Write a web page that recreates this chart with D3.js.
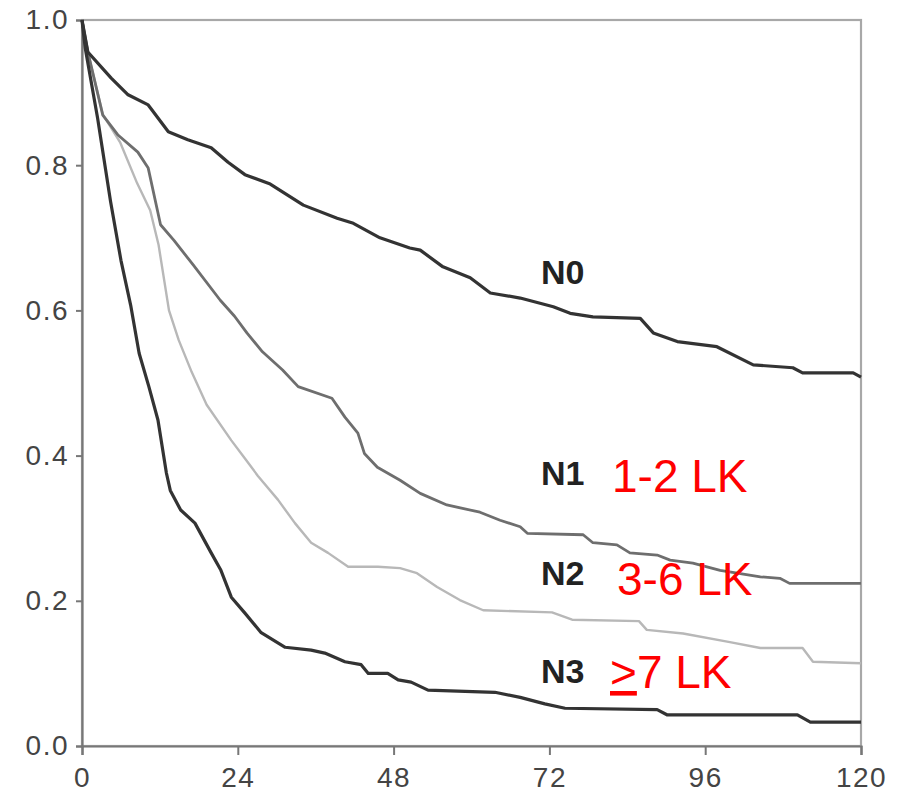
<!DOCTYPE html>
<html>
<head>
<meta charset="utf-8">
<script src="https://cdn.jsdelivr.net/npm/d3@7"></script>
<style>
  html, body { margin: 0; padding: 0; background: #fff; }
  svg { display: block; }
  text { font-family: "Liberation Sans", Arial, Helvetica, sans-serif; }
</style>
</head>
<body>
<svg id="chart" width="905" height="793"></svg>
<script>
// Kaplan-Meier survival by nodal stage: [months, survival proportion]
const n0 = [[0,1.0],[0.9,0.956],[4.5,0.92],[7.1,0.897],[10.2,0.883],[13.3,0.846],[16.3,0.835],[19.9,0.824],[22.5,0.804],[25.1,0.787],[29.0,0.774],[34.1,0.745],[39.3,0.727],[41.8,0.72],[45.9,0.70],[50.5,0.686],[52.1,0.683],[55.6,0.66],[59.8,0.645],[62.9,0.624],[67.5,0.617],[72.6,0.605],[75.2,0.596],[78.7,0.591],[86,0.589],[88,0.569],[91.7,0.557],[97.8,0.55],[103.4,0.525],[109.5,0.521],[111,0.514],[118.8,0.514],[120,0.508]];
const n1 = [[0,1.0],[0.9,0.956],[3.2,0.869],[5.5,0.842],[8.6,0.818],[10.2,0.796],[12.1,0.718],[14.2,0.696],[17.1,0.663],[21.3,0.614],[23.5,0.592],[25.4,0.569],[27.8,0.543],[30.9,0.518],[33.3,0.495],[38.5,0.479],[40.5,0.453],[42.5,0.431],[43.5,0.403],[45.5,0.384],[49,0.366],[52.1,0.348],[56.2,0.332],[61.3,0.322],[64.4,0.311],[67.5,0.302],[68.6,0.293],[77.2,0.291],[78.7,0.280],[82.4,0.277],[84.4,0.266],[88.6,0.263],[90.6,0.256],[94.1,0.252],[98.3,0.242],[104.5,0.233],[107.5,0.231],[109,0.224],[120,0.224]];
const n2 = [[0,1.0],[0.9,0.956],[3.2,0.87],[5.9,0.831],[8.5,0.775],[10.5,0.738],[11.8,0.69],[13.4,0.60],[14.9,0.559],[16.9,0.515],[19.2,0.47],[23,0.421],[25.1,0.396],[27.1,0.372],[30.2,0.339],[32.8,0.307],[35.3,0.28],[37.9,0.266],[41,0.247],[45.6,0.247],[49,0.245],[51.6,0.238],[54.7,0.219],[58.2,0.201],[61.8,0.187],[72.4,0.184],[75.5,0.174],[85.8,0.172],[87,0.160],[92.6,0.155],[99.8,0.143],[104.5,0.135],[111,0.135],[112.6,0.116],[120,0.114]];
const n3 = [[0,1.0],[0.5,0.961],[2.4,0.865],[4.4,0.75],[6,0.669],[7.5,0.607],[8.8,0.541],[10.3,0.495],[11.7,0.449],[13,0.376],[13.6,0.352],[15.2,0.325],[17.4,0.307],[19.9,0.266],[21.4,0.242],[23,0.205],[25.1,0.183],[27.6,0.156],[31.3,0.136],[35.3,0.132],[37.4,0.128],[40.5,0.116],[43,0.112],[44.1,0.1],[47.1,0.1],[48.7,0.091],[50.7,0.088],[53.3,0.077],[63.6,0.074],[67.5,0.067],[71.3,0.058],[74.4,0.052],[88.6,0.05],[90.1,0.043],[110.2,0.043],[112.2,0.033],[120,0.033]];

const xTicks = [0, 24, 48, 72, 96, 120];
const yTicks = [0, 0.2, 0.4, 0.6, 0.8, 1.0];
const stageNames = ["N0", "N1", "N2", "N3"];
const nodeCounts = ["", "1-2 LK", "3-6 LK", "7 LK"];

const svg = d3.select("#chart");
const x = d3.scaleLinear().domain([0, 120]).range([82, 861]);
const y = d3.scaleLinear().domain([0, 1]).range([746, 20]);

// plot frame
svg.append("rect")
  .attr("x", x(0)).attr("y", y(1))
  .attr("width", x(120) - x(0)).attr("height", y(0) - y(1))
  .attr("fill", "none").attr("stroke", "#a8a8a8").attr("stroke-width", 2.2);

const yAxis = svg.append("g")
  .attr("transform", `translate(${x(0)},0)`)
  .call(d3.axisLeft(y).tickValues(yTicks).tickFormat(d3.format(".1f")).tickSize(6).tickPadding(7));
const xAxis = svg.append("g")
  .attr("transform", `translate(0,${y(0)})`)
  .call(d3.axisBottom(x).tickValues(xTicks).tickSize(9).tickPadding(12));

[yAxis, xAxis].forEach(g => {
  g.select(".domain").attr("stroke", "#777").attr("stroke-width", 2.2);
  g.selectAll(".tick line").attr("stroke", "#777").attr("stroke-width", 2);
  g.selectAll(".tick text")
    .attr("fill", "#444")
    .style("font-size", "28px")
    .style("letter-spacing", "1.5px");
});

// survival curves
const line = d3.line().x(d => x(d[0])).y(d => y(d[1])).curve(d3.curveLinear);
const curves = [
  { data: n2, color: "#b8b8b8", width: 2.4 },
  { data: n1, color: "#6e6e6e", width: 2.8 },
  { data: n3, color: "#333", width: 3.2 },
  { data: n0, color: "#333", width: 3.2 }
];
svg.append("g").selectAll("path").data(curves).join("path")
  .attr("d", d => line(d.data))
  .attr("fill", "none")
  .attr("stroke", d => d.color)
  .attr("stroke-width", d => d.width)
  .attr("stroke-linejoin", "round");

// stage labels
const stageY = [284, 485, 585, 683];
svg.append("g").selectAll("text").data(stageNames).join("text")
  .attr("x", 541).attr("y", (d, i) => stageY[i])
  .attr("fill", "#222")
  .style("font-size", "34px").style("font-weight", "bold")
  .text(d => d);

// lymph node counts in red
const countX = [0, 612, 617, 610];
const countY = [0, 492, 595, 688];
const red = svg.append("g").attr("fill", "#ff0000").style("font-size", "46px");
[1, 2].forEach(i => {
  red.append("text").attr("x", countX[i]).attr("y", countY[i]).text(nodeCounts[i]);
});
const t3 = red.append("text").attr("x", countX[3]).attr("y", countY[3]);
t3.append("tspan").style("text-decoration", "underline").text(">");
t3.append("tspan").text(nodeCounts[3]);
</script>
</body>
</html>
